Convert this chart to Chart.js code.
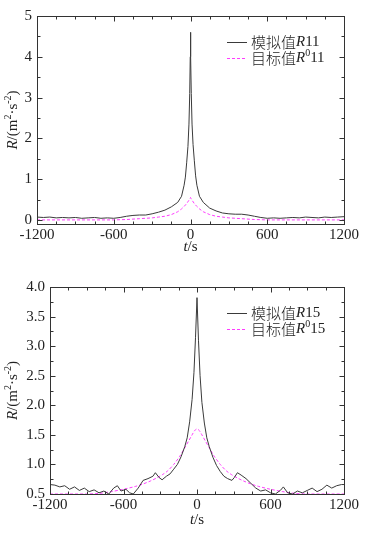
<!DOCTYPE html>
<html>
<head>
<meta charset="utf-8">
<script src="https://cdn.jsdelivr.net/npm/chart.js@4.4.0/dist/chart.umd.min.js"></script>
<style>
  html, body { margin: 0; padding: 0; background: #fff; }
  canvas { display: block; }
</style>
</head>
<body>
<canvas id="chartR11" width="365" height="265"></canvas>
<canvas id="chartR15" width="365" height="268"></canvas>
<script>
// time axis ticks (s), minor every 150, labelled every 600
const tTicks = [-1200, -1050, -900, -750, -600, -450, -300, -150, 0, 150, 300, 450, 600, 750, 900, 1050, 1200];
const yTicks11 = [0, 0.5, 1, 1.5, 2, 2.5, 3, 3.5, 4, 4.5, 5];
const yTicks15 = [0.5, 0.75, 1, 1.25, 1.5, 1.75, 2, 2.25, 2.5, 2.75, 3, 3.25, 3.5, 3.75, 4];

// R11 simulated
const tSim11 = [-1200, -1150, -1100, -1050, -1000, -950, -900, -850, -800, -750, -700, -650, -600, -550, -500, -450,
  -400, -350, -300, -250, -200, -150, -100, -70, -50, -40, -30, -20, -12, -6, -2, 0, 2, 6, 12, 20, 30, 40, 50, 70,
  100, 150, 200, 250, 300, 350, 400, 450, 500, 550, 600, 650, 700, 750, 800, 850, 900, 950, 1000, 1050, 1100, 1150, 1200];
const simR11 = [0.07, 0.06, 0.07, 0.05, 0.06, 0.05, 0.06, 0.04, 0.05, 0.06, 0.04, 0.05, 0.04, 0.06, 0.09, 0.11,
  0.12, 0.12, 0.15, 0.19, 0.24, 0.32, 0.43, 0.58, 0.85, 1.05, 1.4, 1.8, 2.35, 3.1, 4.0, 4.6, 4.0, 3.1, 2.35, 1.85, 1.45, 1.08, 0.85, 0.58,
  0.43, 0.29, 0.22, 0.17, 0.15, 0.14, 0.14, 0.12, 0.09, 0.06, 0.04, 0.05, 0.04, 0.05, 0.06, 0.05, 0.07, 0.06, 0.05, 0.07, 0.06, 0.07, 0.08];

// R11 target
const tTgt11 = [-1200, -900, -600, -500, -400, -300, -250, -200, -150, -100, -70, -50, -30, -15, -5, 0,
  5, 15, 30, 50, 70, 100, 150, 200, 250, 300, 400, 500, 600, 900, 1200];
const tgtR11 = [0, 0, 0, 0.01, 0.03, 0.05, 0.07, 0.09, 0.13, 0.2, 0.27, 0.33, 0.4, 0.47, 0.52, 0.55,
  0.52, 0.47, 0.4, 0.33, 0.27, 0.2, 0.13, 0.09, 0.07, 0.05, 0.03, 0.01, 0, 0, 0];

// R15 simulated
const tSim15 = [-1200, -1160, -1120, -1080, -1040, -1000, -960, -920, -880, -840, -800, -760, -720, -680, -650, -620,
  -580, -550, -520, -480, -440, -400, -360, -340, -310, -285, -250, -220, -190, -160, -130, -100, -80, -60, -40, -25, -12, 0,
  12, 25, 40, 60, 80, 100, 130, 160, 190, 220, 250, 285, 305, 330, 360, 400, 440, 480, 520, 560, 600, 640, 680, 705,
  740, 780, 820, 860, 900, 940, 980, 1020, 1060, 1100, 1140, 1180, 1200];
const simR15 = [0.66, 0.65, 0.62, 0.64, 0.58, 0.62, 0.56, 0.6, 0.54, 0.57, 0.52, 0.55, 0.5, 0.6, 0.64, 0.55,
  0.58, 0.52, 0.5, 0.6, 0.73, 0.76, 0.8, 0.86, 0.78, 0.74, 0.8, 0.84, 0.92, 1.0, 1.13, 1.3, 1.45, 1.72, 2.1, 2.55, 3.15, 3.82,
  3.1, 2.5, 2.05, 1.7, 1.45, 1.3, 1.12, 0.98, 0.88, 0.8, 0.76, 0.73, 0.78, 0.86, 0.82, 0.76, 0.68, 0.6, 0.55, 0.57, 0.52, 0.5, 0.56, 0.62,
  0.52, 0.5, 0.55, 0.52, 0.56, 0.6, 0.54, 0.58, 0.65, 0.6, 0.64, 0.66, 0.66];

// R15 target
const tTgt15 = [-1200, -900, -800, -700, -600, -500, -440, -380, -330, -280, -240, -190, -140, -100, -70, -40, -20, 0,
  20, 40, 70, 100, 140, 190, 240, 280, 330, 380, 440, 500, 600, 700, 800, 900, 1200];
const tgtR15 = [0.5, 0.5, 0.51, 0.54, 0.58, 0.63, 0.67, 0.72, 0.77, 0.83, 0.89, 1.0, 1.14, 1.28, 1.39, 1.5, 1.57, 1.6,
  1.57, 1.5, 1.39, 1.28, 1.14, 1.0, 0.89, 0.83, 0.77, 0.72, 0.67, 0.63, 0.58, 0.54, 0.51, 0.5, 0.5];

const SERIF = "15px 'Liberation Serif'";
const ITAL = "italic 15px 'Liberation Serif'";
const SUP = "10px 'Liberation Serif'";
const CJK = "300 15px 'Noto Sans CJK SC'";
const INK = '#222';

Chart.defaults.font.family = "'Liberation Serif', serif";
Chart.defaults.font.size = 15;
Chart.defaults.color = INK;

function toPoints(ts, vs) {
  return ts.map((t, i) => ({ x: t, y: vs[i] }));
}

// draw a row of text pieces with their own fonts
function drawRuns(ctx, runs, x, y, align) {
  let total = 0;
  runs.forEach(r => { ctx.font = r.f; total += ctx.measureText(r.t).width; });
  let cx = align === 'center' ? x - total / 2 : x;
  ctx.textBaseline = 'middle';
  ctx.textAlign = 'left';
  ctx.fillStyle = INK;
  runs.forEach(r => {
    ctx.font = r.f;
    ctx.fillText(r.t, cx, y + (r.dy || 0));
    cx += ctx.measureText(r.t).width;
  });
}

// frame, inward ticks, axis titles, legend
function makeDecor(cfg) {
  return {
    id: 'decor',
    afterDraw(chart) {
      const { ctx, chartArea: a, scales } = chart;
      ctx.save();
      ctx.strokeStyle = '#333';
      ctx.lineWidth = 1;
      ctx.setLineDash([]);
      const L = Math.round(a.left) + 0.5, R = Math.round(a.right) + 0.5;
      const T = Math.round(a.top) + 0.5, B = Math.round(a.bottom) + 0.5;
      ctx.strokeRect(L, T, R - L, B - T);
      ctx.beginPath();
      scales.x.ticks.forEach(t => {
        const p = Math.round(scales.x.getPixelForValue(t.value)) + 0.5;
        const len = t.label ? 5 : 3;
        ctx.moveTo(p, B); ctx.lineTo(p, B - len);
        ctx.moveTo(p, T); ctx.lineTo(p, T + len);
      });
      scales.y.ticks.forEach(t => {
        const p = Math.round(scales.y.getPixelForValue(t.value)) + 0.5;
        const len = t.label ? 5 : 3;
        ctx.moveTo(L, p); ctx.lineTo(L + len, p);
        ctx.moveTo(R, p); ctx.lineTo(R - len, p);
      });
      ctx.stroke();

      drawRuns(ctx, cfg.xTitle, (a.left + a.right) / 2, cfg.xTitleY, 'center');
      ctx.save();
      ctx.translate(cfg.yTitleX, (a.top + a.bottom) / 2);
      ctx.rotate(-Math.PI / 2);
      drawRuns(ctx, cfg.yTitle, 0, 0, 'center');
      ctx.restore();

      cfg.legend.forEach((runs, i) => {
        const ds = chart.data.datasets[i];
        const y = Math.round(cfg.legendY + i * cfg.legendGap) + 0.5;
        ctx.strokeStyle = ds.borderColor;
        ctx.setLineDash(ds.borderDash || []);
        ctx.beginPath();
        ctx.moveTo(cfg.legendX, y);
        ctx.lineTo(cfg.legendX + 20, y);
        ctx.stroke();
        drawRuns(ctx, runs, cfg.legendX + 24, y, 'left');
      });
      ctx.restore();
    }
  };
}

const yTitle = [
  { t: 'R', f: ITAL }, { t: '/(m', f: SERIF }, { t: '2', f: SUP, dy: -5 },
  { t: '·s', f: SERIF }, { t: '-2', f: SUP, dy: -5 }, { t: ')', f: SERIF }
];
const xTitle = [{ t: 't', f: ITAL }, { t: '/s', f: SERIF }];

function buildChart(id, o) {
  new Chart(document.getElementById(id), {
    type: 'line',
    data: {
      datasets: [{
        data: toPoints(o.tSim, o.sim),
        borderColor: '#3a3a3a',
        borderWidth: 1,
        pointRadius: 0,
        tension: 0
      }, {
        data: toPoints(o.tTgt, o.tgt),
        borderColor: '#ff3cff',
        borderWidth: 1,
        borderDash: [3, 2],
        pointRadius: 0,
        tension: o.tgtTension
      }]
    },
    options: {
      responsive: false,
      animation: false,
      layout: { padding: { top: o.padTop, right: 21, left: 0, bottom: 0 } },
      plugins: { legend: { display: false }, tooltip: { enabled: false } },
      scales: {
        x: {
          type: 'linear',
          min: -1200,
          max: 1200,
          afterBuildTicks: s => { s.ticks = tTicks.map(v => ({ value: v })); },
          afterFit: s => { s.height = o.xHeight; },
          grid: { display: false, drawTicks: false },
          border: { display: false },
          ticks: {
            autoSkip: false,
            maxRotation: 0,
            padding: 2,
            callback: v => (v % 600 === 0 ? String(v) : '')
          }
        },
        y: {
          type: 'linear',
          min: o.yMin,
          max: o.yMax,
          afterBuildTicks: s => { s.ticks = o.yTicks.map(v => ({ value: v })); },
          afterFit: s => { s.width = o.yWidth; },
          grid: { display: false, drawTicks: false },
          border: { display: false },
          ticks: { autoSkip: false, padding: 5, callback: o.yLabel }
        }
      }
    },
    plugins: [makeDecor({
      xTitle: xTitle,
      yTitle: yTitle,
      xTitleY: o.xTitleY,
      yTitleX: 13,
      legendX: 227,
      legendY: o.legendY,
      legendGap: 15.5,
      legend: o.legend
    })]
  });
}

buildChart('chartR11', {
  tSim: tSim11, sim: simR11, tTgt: tTgt11, tgt: tgtR11, tgtTension: 0,
  yMin: -0.1, yMax: 5, yTicks: yTicks11,
  yLabel: v => (Number.isInteger(v) ? String(v) : ''),
  padTop: 16, xHeight: 41, yWidth: 37, xTitleY: 247, legendY: 42,
  legend: [
    [{ t: '模拟值', f: CJK }, { t: 'R', f: ITAL }, { t: '11', f: SERIF }],
    [{ t: '目标值', f: CJK }, { t: 'R', f: ITAL }, { t: '0', f: SUP, dy: -5 }, { t: '11', f: SERIF }]
  ]
});

buildChart('chartR15', {
  tSim: tSim15, sim: simR15, tTgt: tTgt15, tgt: tgtR15, tgtTension: 0.3,
  yMin: 0.5, yMax: 4, yTicks: yTicks15,
  yLabel: v => (Number.isInteger(v * 2) ? v.toFixed(1) : ''),
  padTop: 22, xHeight: 39, yWidth: 50, xTitleY: 255, legendY: 48,
  legend: [
    [{ t: '模拟值', f: CJK }, { t: 'R', f: ITAL }, { t: '15', f: SERIF }],
    [{ t: '目标值', f: CJK }, { t: 'R', f: ITAL }, { t: '0', f: SUP, dy: -5 }, { t: '15', f: SERIF }]
  ]
});
</script>
</body>
</html>
